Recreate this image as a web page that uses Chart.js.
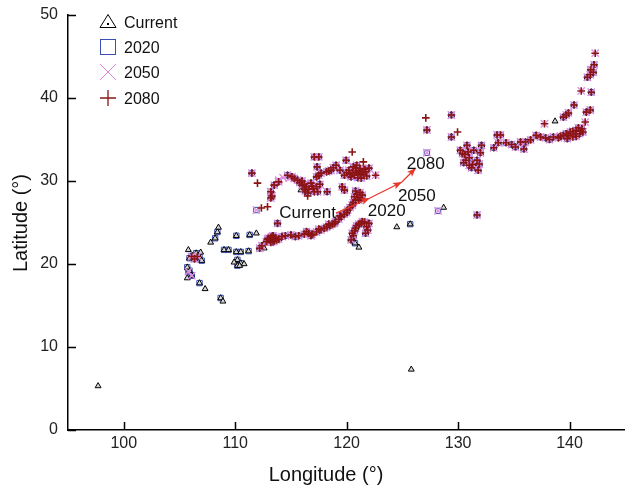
<!DOCTYPE html>
<html>
<head>
<meta charset="utf-8">
<script src="https://cdn.jsdelivr.net/npm/chart.js@4"></script>
<style>
  html, body { margin: 0; padding: 0; background: #fff; }
  #wrap { position: relative; width: 631px; height: 488px; }
</style>
</head>
<body>
<div id="wrap"><canvas id="chart"></canvas></div>
<script>
// axis ticks
const xTicks = [100, 110, 120, 130, 140];
const yTicks = [0, 10, 20, 30, 40, 50];

// [longitude, latitude] occurrence points
// sites occupied in every period
const corePts = [
  [106.35, 20.6], [106.6, 20.9], [106.1, 20.9],
  [112.2, 21.9], [112.4, 22.2], [112.8, 22.7], [113.0, 23.1], [113.3, 23.0], [113.5, 22.8], [113.2, 22.6],
  [113.6, 23.2], [113.4, 23.4], [113.9, 23.0], [114.2, 23.3], [114.5, 23.4], [113.8, 24.9],
  [113.1, 22.9], [113.4, 22.7], [113.3, 23.3], [112.9, 23.0], [113.7, 22.9], [113.2, 23.2], [113.5, 23.1],
  [115.0, 23.5], [115.4, 23.3], [115.7, 23.4], [116.2, 23.6], [116.6, 23.7], [116.9, 23.6], [117.3, 23.85],
  [117.7, 24.1], [118.0, 24.3], [118.2, 24.45], [118.5, 24.6], [118.7, 24.8], [119.0, 25.1], [119.3, 25.4],
  [119.5, 25.7], [119.8, 26.0], [120.1, 26.5], [120.3, 26.8], [120.5, 27.1], [120.8, 27.7], [121.0, 28.0],
  [121.3, 27.9], [120.9, 28.4], [121.2, 28.6], [120.7, 28.1],
  [116.4, 23.9], [116.8, 23.4], [117.5, 24.2], [118.4, 24.8], [118.9, 24.9], [119.4, 25.8], [120.0, 26.2],
  [120.6, 27.4], [121.1, 27.7], [121.4, 28.3], [120.8, 28.8],
  [120.4, 22.9], [120.5, 23.7], [120.8, 24.3], [121.1, 24.8], [121.4, 25.1], [121.6, 25.05], [122.0, 24.9],
  [121.9, 24.1], [121.7, 23.7], [120.6, 23.4], [121.3, 24.9], [120.9, 24.6], [121.8, 24.5], [120.7, 24.0],
  [111.5, 30.95], [113.2, 27.95], [113.2, 28.7], [113.5, 29.5], [113.9, 29.9], [114.7, 30.7], [115.1, 30.5],
  [115.6, 30.1], [116.0, 29.5], [116.4, 29.3], [116.8, 29.75], [117.3, 29.3], [117.4, 28.7], [116.5, 28.55],
  [116.2, 29.0], [117.0, 29.1], [117.3, 30.5], [117.7, 30.95], [118.2, 31.1], [118.6, 31.3], [119.05, 31.9],
  [118.25, 28.7], [117.5, 32.9], [117.1, 32.9], [117.35, 31.7], [119.95, 32.5], [119.8, 28.9], [119.6, 29.3],
  [113.3, 28.2], [115.3, 30.3], [115.8, 29.8], [116.2, 29.6], [116.6, 29.0], [116.9, 29.4], [117.6, 29.6],
  [116.3, 28.8], [117.1, 28.7], [117.5, 30.7], [118.4, 31.2], [118.8, 31.6], [116.0, 30.0],
  [120.2, 31.3], [120.5, 31.0], [120.8, 31.55], [121.1, 31.2], [121.4, 31.1], [121.8, 30.6], [120.7, 30.7],
  [121.3, 30.35], [121.0, 30.8], [119.8, 30.7], [119.4, 31.3], [122.0, 31.55], [120.9, 31.9], [121.6, 31.4],
  [120.4, 30.5], [121.2, 30.9], [120.0, 31.0], [120.6, 31.7], [121.5, 30.8], [121.0, 30.4], [120.3, 30.8],
  [121.7, 31.1], [121.2, 31.5], [120.9, 31.2],
  [127.2, 36.15], [129.4, 37.95], [129.4, 35.3], [130.2, 33.7], [130.8, 34.3], [131.4, 33.7], [130.6, 33.2],
  [131.0, 32.8], [130.5, 32.2], [131.2, 31.6], [131.8, 31.3], [132.1, 34.3], [132.0, 33.4], [131.7, 32.5],
  [131.9, 32.05], [131.3, 32.0], [131.7, 25.9], [130.4, 33.3], [130.9, 33.5], [130.7, 32.5], [131.0, 31.9],
  [133.5, 35.55], [133.8, 35.55], [133.2, 34.0], [133.6, 34.6], [134.3, 34.6], [134.8, 34.4], [135.15, 34.1],
  [135.6, 34.7], [136.05, 34.7], [135.9, 33.85], [136.5, 34.95], [137.0, 35.5], [137.4, 35.3], [137.85, 35.2],
  [138.2, 35.0], [138.55, 35.3], [139.0, 35.2], [139.45, 35.5], [139.7, 35.7], [140.07, 35.9], [140.5, 35.7],
  [140.8, 36.4], [141.0, 36.0], [141.2, 35.9], [140.3, 35.3], [139.8, 35.1], [140.6, 36.1],
  [139.2, 35.4], [139.9, 35.5], [140.3, 36.0], [140.9, 35.7], [140.6, 35.4], [141.1, 36.3],
  [139.7, 37.95], [139.45, 37.7], [140.4, 39.15], [141.95, 40.7], [141.86, 38.55], [141.5, 38.3],
  [141.6, 42.5], [141.86, 42.8], [142.13, 43.1], [142.2, 44.0], [139.9, 38.2], [141.9, 43.4]
];
// south-western sites held now and in 2020 only
const southPts = [
  [106.2, 21.0], [105.9, 20.7], [106.5, 21.3], [106.8, 20.8], [107.0, 20.4], [105.9, 19.2], [106.1, 18.6],
  [105.7, 19.6], [108.4, 23.85], [108.2, 23.1], [106.8, 17.7], [108.7, 15.9], [109.0, 21.7], [109.4, 21.7],
  [110.1, 23.4], [111.3, 23.5], [110.1, 21.45], [110.5, 21.45], [111.2, 21.55], [110.2, 20.5], [110.5, 20.1],
  [110.2, 19.8], [120.5, 23.2], [120.75, 22.5], [125.7, 24.8]
];
const currentOnlyPts = [
  [97.7, 5.3], [125.8, 7.3], [107.8, 22.6], [108.5, 24.4], [107.3, 17.0], [108.9, 15.5], [111.9, 23.7],
  [110.4, 19.8], [109.9, 20.2], [112.6, 21.9], [124.5, 24.45], [128.7, 26.8], [121.1, 22.0], [138.7, 37.2],
  [115.9, 28.9], [105.8, 21.7], [106.9, 21.4], [105.7, 18.3], [110.8, 20.0]
];
const pts2020and2050 = [[128.2, 26.4], [127.2, 33.4], [111.9, 26.5], [105.8, 19.1], [106.1, 18.6]];
const pts2050Only = [[113.9, 30.1], [114.85, 30.35], [114.3, 30.4]];
const pts2050and2080 = [[122.6, 30.7], [141.05, 40.85], [137.75, 36.9], [141.4, 37.1], [142.3, 45.4]];
const pts2080Only = [
  [112.0, 29.75], [112.35, 26.75], [112.9, 26.9], [120.5, 33.5], [121.5, 32.3], [127.1, 37.6],
  [129.95, 35.9], [116.5, 28.2]
];

const currentPts = [...corePts, ...southPts, ...currentOnlyPts];
const pts2020 = [...corePts, ...southPts, ...pts2020and2050];
const pts2050 = [...corePts, ...pts2020and2050, ...pts2050Only, ...pts2050and2080];
const pts2080 = [...corePts, ...pts2050and2080, ...pts2080Only];

// centroid shift shown by the red arrow, and its labels
const shiftPath = [[119.05, 26.14], [122.09, 27.95], [124.96, 29.88], [126.21, 31.57]];
const shiftLabels = [
  { text: 'Current', lon: 113.95, lat: 25.5 },
  { text: '2020', lon: 121.9, lat: 25.75 },
  { text: '2050', lon: 124.6, lat: 27.55 },
  { text: '2080', lon: 125.4, lat: 31.4 }
];

const toXY = pts => pts.map(([lon, lat]) => ({ x: lon, y: lat }));
const FONT = '"Liberation Sans", Arial, Helvetica, sans-serif';

const overlay = {
    id: 'overlay',
    afterDraw(chart) {
        const { ctx, chartArea, scales: { x, y } } = chart;
        ctx.save();

        // inward tick marks
        ctx.strokeStyle = '#000';
        ctx.lineWidth = 1.5;
        ctx.beginPath();
        xTicks.forEach(v => {
            const px = Math.round(x.getPixelForValue(v)) + 0.5;
            ctx.moveTo(px, chartArea.bottom);
            ctx.lineTo(px, chartArea.bottom - 8);
        });
        yTicks.forEach(v => {
            const py = Math.round(y.getPixelForValue(v)) + 0.5;
            ctx.moveTo(chartArea.left, py);
            ctx.lineTo(chartArea.left + 8, py);
        });
        ctx.stroke();

        // arrow
        const p = shiftPath.map(([lon, lat]) => [x.getPixelForValue(lon), y.getPixelForValue(lat)]);
        ctx.strokeStyle = '#e8382a';
        ctx.fillStyle = '#e8382a';
        ctx.lineWidth = 1.3;
        ctx.beginPath();
        ctx.moveTo(p[0][0], p[0][1]);
        for (let i = 1; i < p.length; i++) ctx.lineTo(p[i][0], p[i][1]);
        ctx.stroke();
        for (let i = 1; i < p.length; i++) {
            const a = Math.atan2(p[i][1] - p[i - 1][1], p[i][0] - p[i - 1][0]);
            ctx.save();
            ctx.translate(p[i][0], p[i][1]);
            ctx.rotate(a);
            ctx.beginPath();
            ctx.moveTo(0, 0);
            ctx.lineTo(-9, -3.5);
            ctx.lineTo(-7, 0);
            ctx.lineTo(-9, 3.5);
            ctx.closePath();
            ctx.fill();
            ctx.restore();
        }

        // labels along the arrow
        ctx.fillStyle = '#111';
        ctx.font = '17px ' + FONT;
        ctx.textAlign = 'left';
        ctx.textBaseline = 'alphabetic';
        shiftLabels.forEach(l => {
            ctx.fillText(l.text, x.getPixelForValue(l.lon), y.getPixelForValue(l.lat));
        });

        // legend
        const lx = 108;
        ctx.lineWidth = 1;
        ctx.strokeStyle = '#000';
        ctx.fillStyle = '#fff';
        ctx.beginPath();
        ctx.moveTo(lx - 8, 27.5);
        ctx.lineTo(lx + 8, 27.5);
        ctx.lineTo(lx, 14.5);
        ctx.closePath();
        ctx.fill();
        ctx.stroke();
        ctx.fillStyle = '#000';
        ctx.fillRect(lx - 1, 23, 2, 2);

        ctx.strokeStyle = '#3b4fb8';
        ctx.strokeRect(lx - 7.5, 39.5, 15, 15);

        ctx.strokeStyle = '#dd88dd';
        ctx.beginPath();
        ctx.moveTo(lx - 8, 64); ctx.lineTo(lx + 8, 80);
        ctx.moveTo(lx - 8, 80); ctx.lineTo(lx + 8, 64);
        ctx.stroke();

        ctx.strokeStyle = '#8b1414';
        ctx.lineWidth = 1.3;
        ctx.beginPath();
        ctx.moveTo(lx - 8, 98); ctx.lineTo(lx + 8, 98);
        ctx.moveTo(lx, 90); ctx.lineTo(lx, 106);
        ctx.stroke();

        ctx.fillStyle = '#111';
        ctx.font = '16px ' + FONT;
        [['Current', 27.5], ['2020', 53], ['2050', 78], ['2080', 104]].forEach(([t, by]) => {
            ctx.fillText(t, 124, by);
        });

        // axis titles
        ctx.font = '20px ' + FONT;
        ctx.textAlign = 'center';
        ctx.fillText('Longitude (°)', 326, 481);
        ctx.translate(27, 223);
        ctx.rotate(-Math.PI / 2);
        ctx.fillText('Latitude (°)', 0, 0);

        ctx.restore();
    }
};

new Chart(document.getElementById('chart'), {
    type: 'scatter',
    data: {
        datasets: [
            {
                label: '2080', data: toXY(pts2080), order: 0,
                pointStyle: 'cross', pointRadius: 3.8, pointBorderWidth: 1.6,
                pointBorderColor: '#8b1414', pointBackgroundColor: '#8b1414'
            },
            {
                label: '2050', data: toXY(pts2050), order: 1,
                pointStyle: 'crossRot', pointRadius: 5.2, pointBorderWidth: 1.4,
                pointBorderColor: '#de8fde', pointBackgroundColor: '#de8fde'
            },
            {
                label: 'Current', data: toXY(currentPts), order: 2,
                pointStyle: 'triangle', pointRadius: 3.4, pointBorderWidth: 1,
                pointBorderColor: '#000', pointBackgroundColor: '#d8d8d8'
            },
            {
                label: '2020', data: toXY(pts2020), order: 3,
                pointStyle: 'rect', pointRadius: 3.8, pointBorderWidth: 1,
                pointBorderColor: '#3b4fb8', pointBackgroundColor: 'rgba(255,255,255,0)'
            }
        ]
    },
    options: {
        responsive: true,
        maintainAspectRatio: false,
        animation: false,
        layout: { padding: { top: 15, right: 0, left: 0, bottom: 0 } },
        plugins: { legend: { display: false }, tooltip: { enabled: false } },
        scales: {
            x: {
                type: 'linear', min: 95, max: 144.92,
                afterBuildTicks: s => { s.ticks = xTicks.map(v => ({ value: v })); },
                afterFit: s => { s.height = 58; s.paddingLeft = 0; s.paddingRight = 0; },
                grid: { display: true, drawOnChartArea: false, drawTicks: false },
                border: { display: true, color: '#000', width: 1.5 },
                ticks: { padding: 4, color: '#222', font: { family: FONT, size: 16 } }
            },
            y: {
                type: 'linear', min: 0, max: 50,
                afterBuildTicks: s => { s.ticks = yTicks.map(v => ({ value: v })); },
                afterFit: s => { s.width = 68; s.paddingTop = 0; s.paddingBottom = 0; },
                grid: { display: true, drawOnChartArea: false, drawTicks: false },
                border: { display: true, color: '#000', width: 1.5 },
                ticks: { padding: 10, color: '#222', font: { family: FONT, size: 16 } }
            }
        }
    },
    plugins: [overlay]
});
</script>
</body>
</html>
